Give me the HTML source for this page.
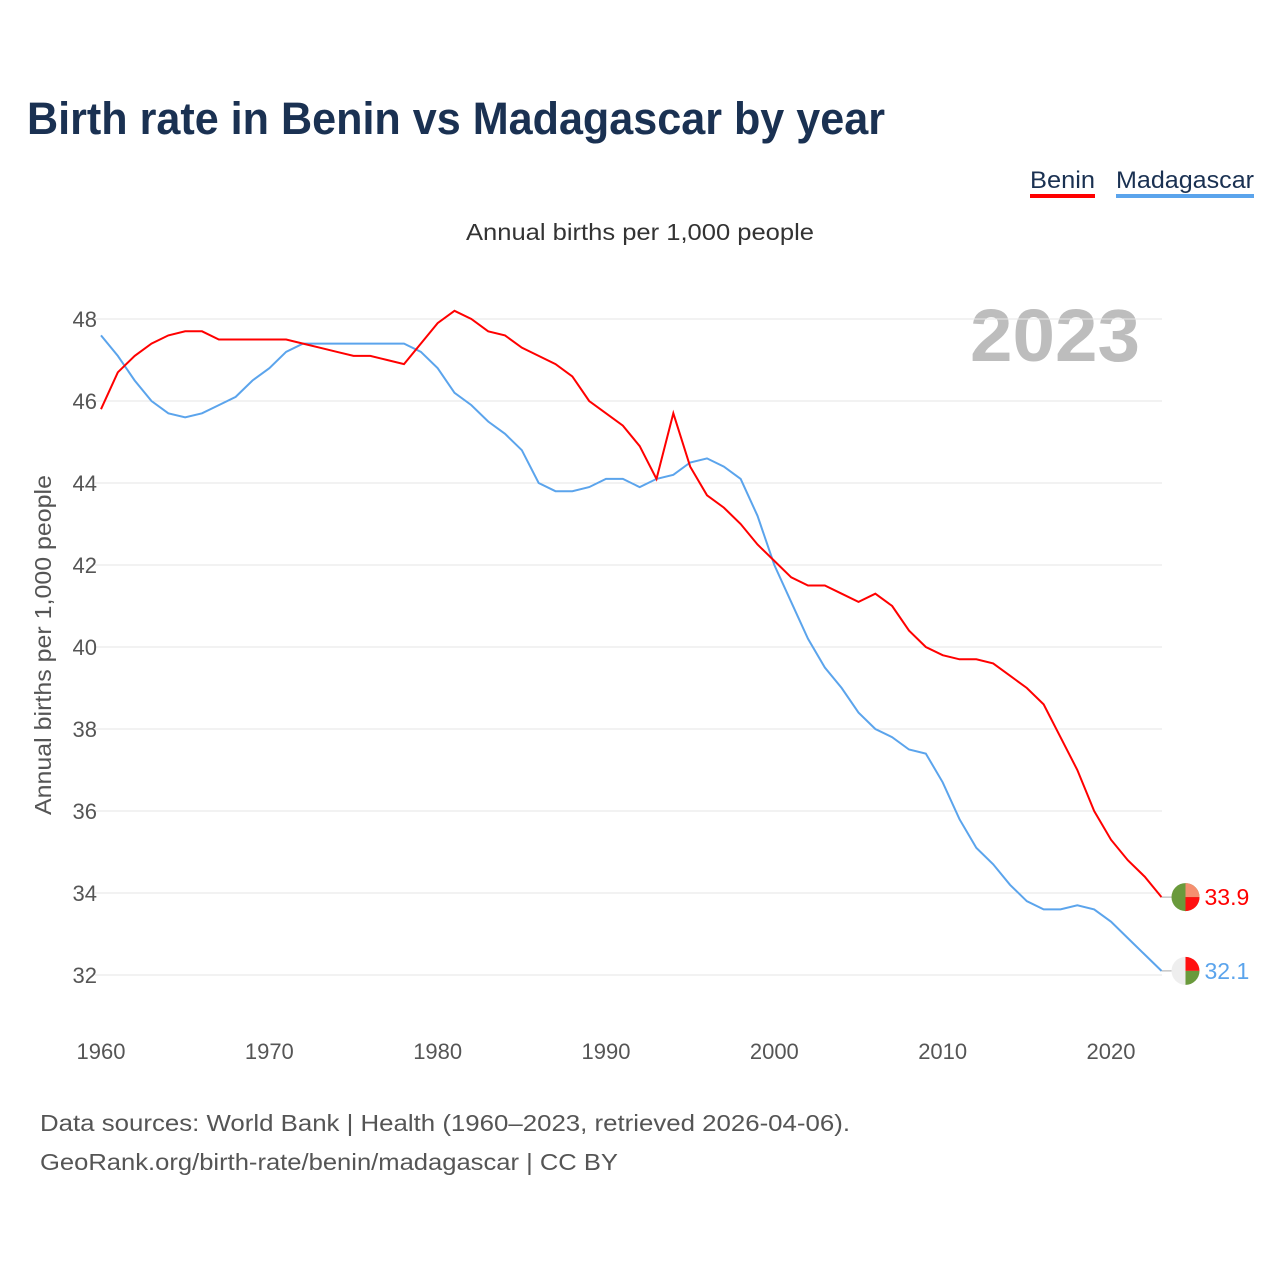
<!DOCTYPE html>
<html><head><meta charset="utf-8"><style>
body{margin:0;background:#fff;width:1280px;height:1280px;overflow:hidden;font-family:"Liberation Sans",sans-serif}
</style></head><body>
<svg width="1280" height="1280" xmlns="http://www.w3.org/2000/svg" id="chart">
<text x="27" y="134" font-size="45" font-weight="bold" fill="#1a3152" textLength="858" lengthAdjust="spacingAndGlyphs">Birth rate in Benin vs Madagascar by year</text>
<g><text x="1030" y="188" font-size="24" fill="#1a3152" textLength="65" lengthAdjust="spacingAndGlyphs">Benin</text><rect x="1030" y="194" width="65" height="4" fill="#ff0000"/></g>
<g><text x="1116" y="188" font-size="24" fill="#1a3152" textLength="138" lengthAdjust="spacingAndGlyphs">Madagascar</text><rect x="1116" y="194" width="138" height="4" fill="#5ba4ec"/></g>
<text x="466" y="240" font-size="23" fill="#333" textLength="348" lengthAdjust="spacingAndGlyphs">Annual births per 1,000 people</text>
<text x="1140" y="361" font-size="74" font-weight="bold" fill="#bdbdbd" text-anchor="end" textLength="170" lengthAdjust="spacingAndGlyphs">2023</text>
<text transform="translate(51,815) rotate(-90)" font-size="23" fill="#555" textLength="340" lengthAdjust="spacingAndGlyphs">Annual births per 1,000 people</text>
<g id="grid"></g><g id="series"></g>
<text x="40" y="1131" font-size="23" fill="#555" textLength="810" lengthAdjust="spacingAndGlyphs">Data sources: World Bank | Health (1960–2023, retrieved 2026-04-06).</text>
<text x="40" y="1170" font-size="23" fill="#555" textLength="578" lengthAdjust="spacingAndGlyphs">GeoRank.org/birth-rate/benin/madagascar | CC BY</text>
</svg>
<script>
const years=[];for(let y=1960;y<=2023;y++)years.push(y);
const yTicks=[32,34,36,38,40,42,44,46,48];
const xTicks=[1960,1970,1980,1990,2000,2010,2020];
const benin=[45.8,46.7,47.1,47.4,47.6,47.7,47.7,47.5,47.5,47.5,47.5,47.5,47.4,47.3,47.2,47.1,47.1,47.0,46.9,47.4,47.9,48.2,48.0,47.7,47.6,47.3,47.1,46.9,46.6,46.0,45.7,45.4,44.9,44.1,45.7,44.4,43.7,43.4,43.0,42.5,42.1,41.7,41.5,41.5,41.3,41.1,41.3,41.0,40.4,40.0,39.8,39.7,39.7,39.6,39.3,39.0,38.6,37.8,37.0,36.0,35.3,34.8,34.4,33.9];
const madagascar=[47.6,47.1,46.5,46.0,45.7,45.6,45.7,45.9,46.1,46.5,46.8,47.2,47.4,47.4,47.4,47.4,47.4,47.4,47.4,47.2,46.8,46.2,45.9,45.5,45.2,44.8,44.0,43.8,43.8,43.9,44.1,44.1,43.9,44.1,44.2,44.5,44.6,44.4,44.1,43.2,42.0,41.1,40.2,39.5,39.0,38.4,38.0,37.8,37.5,37.4,36.7,35.8,35.1,34.7,34.2,33.8,33.6,33.6,33.7,33.6,33.3,32.9,32.5,32.1];
const X=y=>101+(y-1960)*(1010/60), Y=v=>975-(v-32)*41;
const NS='http://www.w3.org/2000/svg';
function mk(t,a,p){const e=document.createElementNS(NS,t);for(const k in a)e.setAttribute(k,a[k]);p.appendChild(e);return e;}
const grid=document.getElementById('grid'),ser=document.getElementById('series');
yTicks.forEach(v=>{
 const l=mk('line',{x1:95,x2:1162,y1:Y(v),y2:Y(v),stroke:'#e6e6e6','stroke-width':1},grid);
 
 
 const t=mk('text',{x:97,y:Y(v)+8,'font-size':22,fill:'#555','text-anchor':'end'},grid);t.textContent=v;
 
 
});
xTicks.forEach(v=>{
 const t=mk('text',{x:X(v),y:1059,'font-size':22,fill:'#555','text-anchor':'middle'},grid);t.textContent=v;
 
 
});
function line(data,color,name){
 const p=mk('polyline',{points:data.map((v,i)=>X(years[i])+','+Y(v)).join(' '),fill:'none',stroke:color,'stroke-width':2},ser);
 
 
 const last=data[data.length-1],cx=X(2023)+24,cy=Y(last);
 const g=mk('g',{},ser);
 
 
 mk('line',{x1:X(2023),x2:cx-14,y1:cy,y2:cy,stroke:'#aaa','stroke-width':1},g);
 if(name==='benin'){
  mk('circle',{cx,cy,r:14,fill:'#6a9a3c'},g);
  mk('path',{d:`M${cx},${cy} L${cx},${cy-14} A14,14 0 0 1 ${cx+14},${cy} Z`,fill:'#f58f70'},g);
  mk('path',{d:`M${cx},${cy} L${cx+14},${cy} A14,14 0 0 1 ${cx},${cy+14} Z`,fill:'#ff1010'},g);
 } else {
  mk('circle',{cx,cy,r:14,fill:'#eeeeee'},g);
  mk('path',{d:`M${cx},${cy} L${cx},${cy-14} A14,14 0 0 1 ${cx+14},${cy} Z`,fill:'#ff1010'},g);
  mk('path',{d:`M${cx},${cy} L${cx+14},${cy} A14,14 0 0 1 ${cx},${cy+14} Z`,fill:'#6a9a3c'},g);
 }
 const t=mk('text',{x:cx+19,y:cy+8,'font-size':23,fill:color},ser);t.textContent=last.toFixed(1);
 
 
}
line(madagascar,'#5ba4ec','madagascar');
line(benin,'#ff0000','benin');
</script>
</body></html>
